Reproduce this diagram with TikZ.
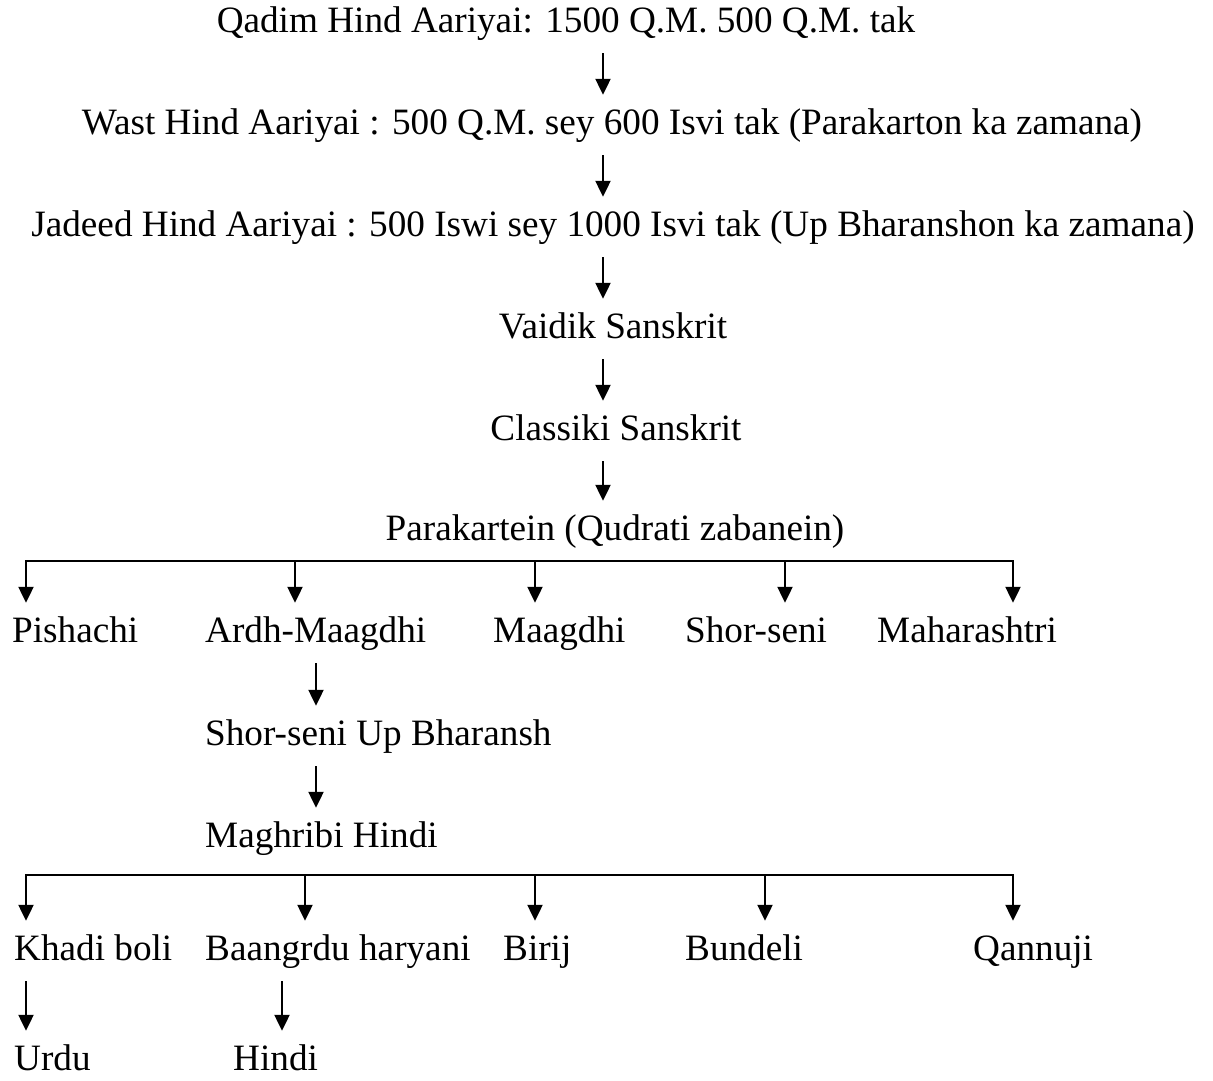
\documentclass[tikz,border=0pt]{standalone}
\usepackage{fontspec}
\setmainfont{Liberation Serif}
\usetikzlibrary{arrows.meta}
\usetikzlibrary{positioning}

\begin{document}
\begin{tikzpicture}[x=1pt,y=-1pt,
    lang/.style={inner xsep=0pt,inner ysep=17pt,text height=22pt,text depth=4pt,font=\fontsize{37.2}{44}\selectfont},
    link/.style={line width=2.2pt},
    arr/.style={line width=2.2pt,-{Triangle[length=16pt,width=15pt]}}]
    	\useasboundingbox (0,0) rectangle (1213,1080);

    	\node[lang,anchor=base] (qadim) at (566,32) {Qadim Hind Aariyai: 1500 Q.M. 500 Q.M. tak};
    	\node[lang,anchor=base] (wast) at (612,134) {Wast Hind Aariyai : 500 Q.M. sey 600 Isvi tak (Parakarton ka zamana)};
    	\node[lang,anchor=base] (jadeed) at (613,236) {Jadeed Hind Aariyai : 500 Iswi sey 1000 Isvi tak (Up Bharanshon ka zamana)};
    	\node[lang,anchor=base] (vaidik) at (613,338) {Vaidik Sanskrit};
    	\node[lang,anchor=base] (classiki) at (616,440) {Classiki Sanskrit};
    	\node[lang,anchor=base] (parak) at (615,540) {Parakartein (Qudrati zabanein)};

    	\node[lang,anchor=base west] (pishachi) at (12,642) {Pishachi};
    	\node[lang,anchor=base west] (ardh) at (205,642) {Ardh-Maagdhi};
    	\node[lang,anchor=base west] (maagdhi) at (493,642) {Maagdhi};
    	\node[lang,anchor=base west] (shorseni) at (685,642) {Shor-seni};
    	\node[lang,anchor=base west] (maha) at (877,642) {Maharashtri};

    	\node[lang,anchor=base west] (upbh) at (205,745) {Shor-seni Up Bharansh};
    	\node[lang,anchor=base west] (maghribi) at (205,847) {Maghribi Hindi};

    	\node[lang,anchor=base west] (khadi) at (14,960) {Khadi boli};
    	\node[lang,anchor=base west] (baangrdu) at (205,960) {Baangrdu haryani};
    	\node[lang,anchor=base west] (birij) at (503,960) {Birij};
    	\node[lang,anchor=base west] (bundeli) at (685,960) {Bundeli};
    	\node[lang,anchor=base west] (qannuji) at (973,960) {Qannuji};

    	\node[lang,anchor=base west] (urdu) at (14,1070) {Urdu};
    	\node[lang,anchor=base west] (hindi) at (233,1070) {Hindi};

    	\draw[arr] (603,0 |- qadim.south) -- (603,0 |- wast.north);
    	\draw[arr] (603,0 |- wast.south) -- (603,0 |- jadeed.north);
    	\draw[arr] (603,0 |- jadeed.south) -- (603,0 |- vaidik.north);
    	\draw[arr] (603,0 |- vaidik.south) -- (603,0 |- classiki.north);
    	\draw[arr] (603,0 |- classiki.south) -- (603,0 |- parak.north);

    	\draw[link] (25,0 |- parak.south) -- (1014,0 |- parak.south);
    	\foreach \x/\n in {26/pishachi,295/ardh,535/maagdhi,785/shorseni,1013/maha}
    	    \draw[arr] (\x,0 |- parak.south) -- (\x,0 |- \n.north);

    	\draw[arr] (316,0 |- ardh.south) -- (316,0 |- upbh.north);
    	\draw[arr] (316,0 |- upbh.south) -- (316,0 |- maghribi.north);

    	\coordinate (bar) at ([yshift=-7pt]maghribi.south);
    	\draw[link] (25,0 |- bar) -- (1014,0 |- bar);
    	\foreach \x/\n in {26/khadi,305/baangrdu,535/birij,765/bundeli,1013/qannuji}
    	    \draw[arr] (\x,0 |- bar) -- (\x,0 |- \n.north);

    	\draw[arr] (26,0 |- khadi.south) -- (26,0 |- urdu.north);
    	\draw[arr] (282,0 |- baangrdu.south) -- (282,0 |- hindi.north);

    	\end{tikzpicture}
\end{document}
